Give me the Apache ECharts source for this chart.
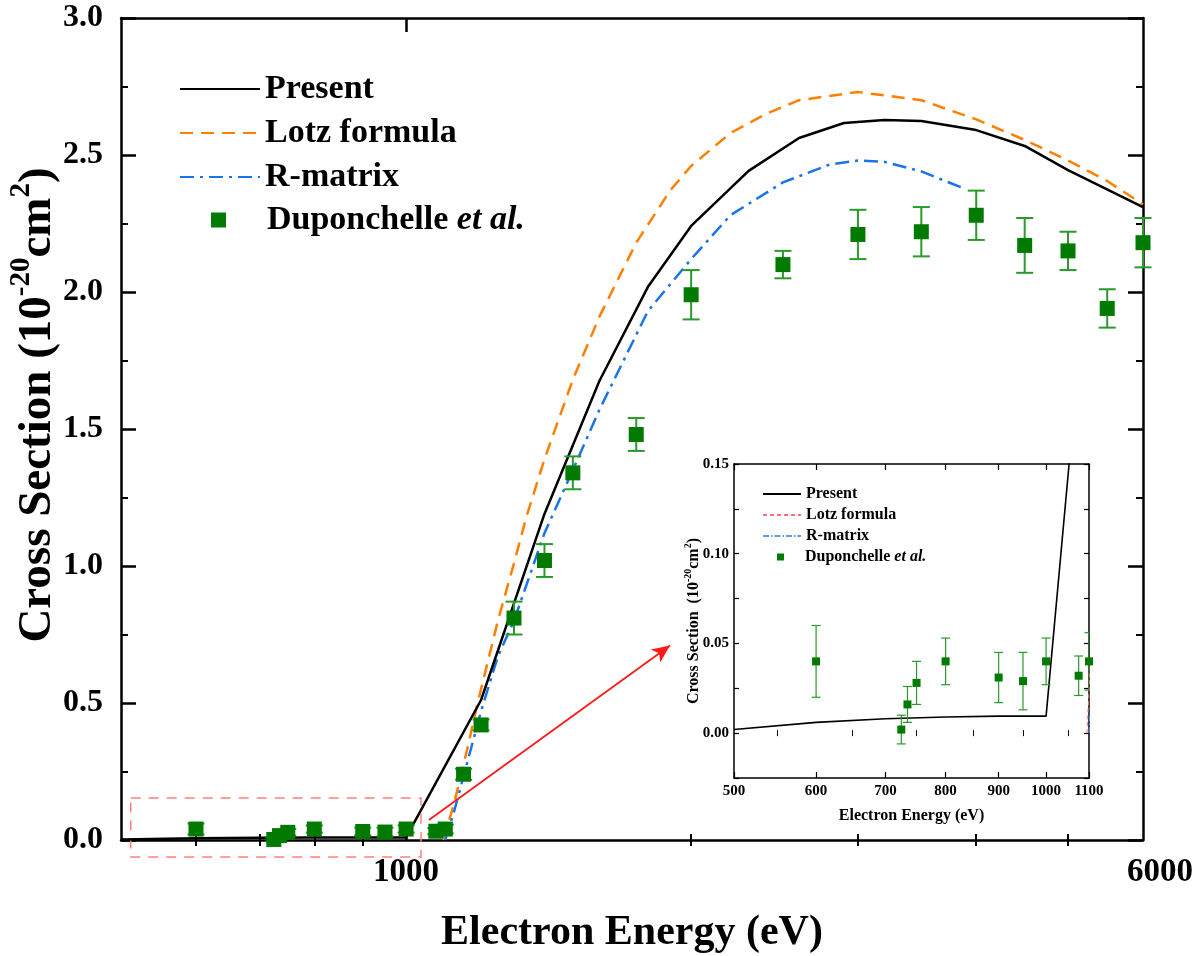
<!DOCTYPE html>
<html><head><meta charset="utf-8">
<script src="https://cdn.jsdelivr.net/npm/echarts@6/dist/echarts.min.js"></script>
<style>html,body{margin:0;padding:0;background:#fff}#c{width:1200px;height:956px}</style>
</head><body><div id="c"></div>
<script>
// ---------- data ----------
const presentX = [500, 600, 700, 800, 900, 1000, 1200, 1400, 1600, 1800, 2000, 2300, 2600, 2900, 3200, 3500, 4000, 4500, 5000, 6000];
const presentY = [0.002, 0.006, 0.008, 0.009, 0.0095, 0.0095, 0.511, 1.19, 1.675, 2.018, 2.241, 2.442, 2.562, 2.617, 2.628, 2.624, 2.591, 2.533, 2.445, 2.310];

const lotzX = [1095, 1125, 1160, 1190, 1250, 1300, 1340, 1400, 1500, 1600, 1750, 1900, 2000, 2200, 2400, 2600, 3000, 3500, 4000, 4500, 5000, 5500, 6000];
const lotzY = [0.0, 0.14, 0.33, 0.50, 0.80, 1.01, 1.18, 1.39, 1.68, 1.91, 2.18, 2.37, 2.46, 2.58, 2.65, 2.70, 2.73, 2.70, 2.63, 2.555, 2.48, 2.405, 2.32];

const rmatX = [1100, 1125, 1200, 1250, 1300, 1400, 1500, 1600, 1800, 2000, 2200, 2500, 2800, 3000, 3200, 3500, 3900];
const rmatY = [0.0, 0.11, 0.47, 0.67, 0.80, 1.12, 1.35, 1.57, 1.93, 2.12, 2.28, 2.40, 2.465, 2.48, 2.475, 2.44, 2.375];

const dupX   = [600, 725, 735, 750, 800, 900, 950, 1000, 1075, 1100, 1150, 1200, 1300, 1400, 1500, 1750, 2000, 2500, 3000, 3500, 4000, 4500, 5000, 5500, 6000];
const dupY   = [0.040, 0.002, 0.016, 0.028, 0.040, 0.031, 0.029, 0.040, 0.032, 0.040, 0.24, 0.42, 0.81, 1.02, 1.34, 1.48, 1.99, 2.10, 2.21, 2.22, 2.28, 2.17, 2.15, 1.94, 2.18];
const dupErr = [0.020, 0.008, 0.010, 0.012, 0.013, 0.014, 0.016, 0.013, 0.011, 0.016, 0.02, 0.02, 0.06, 0.06, 0.06, 0.06, 0.09, 0.05, 0.09, 0.09, 0.09, 0.10, 0.07, 0.07, 0.09];

// axis ticks / labels
const mainXMajorTicks = [1000];
const mainXMinorTicks = [600, 700, 800, 900, 2000, 3000, 4000, 5000];
const mainXLabels = [1000, 6000];
const insetXMajorTicks = [500, 600, 700, 800, 900, 1000, 1100];
const insetXMinorTicks = [550, 650, 750, 850, 950, 1050];

// annotation (zoom box and arrow, in data units)
const zoomBoxX = [512, 1037];
const zoomBoxY = [-0.062, 0.153];
const arrowFrom = [1057, 0.073];
const arrowTo = [1900, 0.71];

// ---------- helpers ----------
const FONT = "'Times New Roman','Liberation Serif',serif";
const zip = (xs, ys) => xs.map((x, i) => [x, ys[i]]);
const dupMain = dupX.map((x, i) => [x, dupY[i], dupErr[i]]);
const dupInset = dupMain.filter(d => d[0] <= 1100);

function errRender(cap, lw, color) {
  return function (params, api) {
    const x = api.value(0), y = api.value(1), e = api.value(2);
    const p1 = api.coord([x, y - e]), p2 = api.coord([x, y + e]);
    const st = { stroke: color, lineWidth: lw, fill: null };
    return { type: 'group', children: [
      { type: 'line', shape: { x1: p1[0], y1: p1[1], x2: p2[0], y2: p2[1] }, style: st },
      { type: 'line', shape: { x1: p1[0] - cap, y1: p1[1], x2: p1[0] + cap, y2: p1[1] }, style: st },
      { type: 'line', shape: { x1: p2[0] - cap, y1: p2[1], x2: p2[0] + cap, y2: p2[1] }, style: st }
    ]};
  };
}

const tickStyle = w => ({ color: '#000', width: w });
function xAx(o) {
  return Object.assign({
    type: 'log', logBase: 10, splitLine: { show: false }, minorTick: { show: false },
    minorSplitLine: { show: false }, axisLabel: { show: false }, nameMoveOverlap: false
  }, o);
}

const chart = echarts.init(document.getElementById('c'), null, { renderer: 'canvas' });

const supRich = (fs, sfs) => ({
  m: { fontSize: fs, fontWeight: 'bold', fontFamily: FONT, color: '#000', lineHeight: fs * 1.15, verticalAlign: 'bottom' },
  s: { fontSize: sfs, fontWeight: 'bold', fontFamily: FONT, color: '#000', lineHeight: sfs, verticalAlign: 'top' }
});

const hiddenSymbol = { opacity: 0, color: 'rgba(0,0,0,0)', borderWidth: 0 };

const option = {
  animation: false,
  backgroundColor: '#fff',
  grid: [
    { left: 121, right: 57, top: 18, bottom: 116, outerBoundsMode: 'none', containLabel: false },
    { left: 734, right: 111, top: 464, bottom: 178, outerBoundsMode: 'none', containLabel: false, show: true, backgroundColor: '#fff', borderWidth: 0 }
  ],
  xAxis: [
    xAx({ gridIndex: 0, min: 500, max: 6000, position: 'bottom',
      axisLine: { show: true, onZero: false, lineStyle: tickStyle(2.5) },
      axisTick: { show: true, inside: true, length: 14, customValues: mainXMajorTicks, lineStyle: tickStyle(2.5) },
      axisLabel: { show: true, customValues: mainXLabels, margin: 16,
        formatter: v => (Math.round(v) === 6000 ? '{r|6000}' : '{n|' + Math.round(v) + '}'),
        rich: { n: { fontSize: 33, fontWeight: 'bold', fontFamily: FONT, color: '#000' },
                r: { fontSize: 33, fontWeight: 'bold', fontFamily: FONT, color: '#000', padding: [0, 0, 0, 34] } } },
      name: 'Electron Energy (eV)', nameLocation: 'middle', nameGap: 72,
      nameTextStyle: { fontSize: 42, fontWeight: 'bold', fontFamily: FONT, color: '#000' } }),
    xAx({ gridIndex: 0, min: 500, max: 6000, position: 'bottom',
      axisLine: { show: false },
      axisTick: { show: true, inside: true, length: 6, customValues: mainXMinorTicks, lineStyle: tickStyle(2) } }),
    xAx({ gridIndex: 0, min: 500, max: 6000, position: 'top',
      axisLine: { show: true, onZero: false, lineStyle: tickStyle(2.5) },
      axisTick: { show: true, inside: true, length: 14, customValues: mainXMajorTicks, lineStyle: tickStyle(2.5) } }),
    xAx({ gridIndex: 0, min: 500, max: 6000, position: 'top',
      axisLine: { show: false },
      axisTick: { show: true, inside: true, length: 6, customValues: mainXMinorTicks, lineStyle: tickStyle(2) } }),
    // inset
    xAx({ gridIndex: 1, min: 500, max: 1100, position: 'bottom',
      axisLine: { show: true, onZero: false, lineStyle: tickStyle(1.5) },
      axisTick: { show: true, inside: true, length: 6, customValues: insetXMajorTicks, lineStyle: tickStyle(1.2) },
      axisLabel: { show: true, customValues: insetXMajorTicks, margin: 6, fontSize: 15, fontWeight: 'bold', fontFamily: FONT, color: '#000',
        formatter: v => String(Math.round(v)) },
      name: 'Electron Energy (eV)', nameLocation: 'middle', nameGap: 30,
      nameTextStyle: { fontSize: 16, fontWeight: 'bold', fontFamily: FONT, color: '#000' } }),
    xAx({ gridIndex: 1, min: 500, max: 1100, position: 'bottom',
      axisLine: { show: false },
      axisTick: { show: true, inside: true, length: 3, customValues: insetXMinorTicks, lineStyle: tickStyle(1) } }),
    xAx({ gridIndex: 1, min: 500, max: 1100, position: 'top',
      axisLine: { show: true, onZero: false, lineStyle: tickStyle(1.5) },
      axisTick: { show: true, inside: true, length: 6, customValues: insetXMajorTicks, lineStyle: tickStyle(1.2) } }),
    xAx({ gridIndex: 1, min: 500, max: 1100, position: 'top',
      axisLine: { show: false },
      axisTick: { show: true, inside: true, length: 3, customValues: insetXMinorTicks, lineStyle: tickStyle(1) } })
  ],
  yAxis: [
    { type: 'value', gridIndex: 0, min: 0, max: 3, interval: 0.5, position: 'left', nameMoveOverlap: false,
      axisLine: { show: true, onZero: false, lineStyle: tickStyle(2.5) },
      axisTick: { show: true, inside: true, length: 15, lineStyle: tickStyle(2.5) },
      minorTick: { show: true, splitNumber: 2, length: 7, lineStyle: tickStyle(2) },
      splitLine: { show: false }, minorSplitLine: { show: false },
      axisLabel: { margin: 18, fontSize: 32, fontWeight: 'bold', fontFamily: FONT, color: '#000', formatter: v => v.toFixed(1) },
      name: '{m|Cross Section (10}{s|-20}{m|cm}{s|2}{m|)}', nameLocation: 'middle', nameGap: 60, nameRotate: 90,
      nameTextStyle: { padding: [0, 0, 0, 48], rich: supRich(47, 29) } },
    { type: 'value', gridIndex: 0, min: 0, max: 3, interval: 0.5, position: 'right',
      axisLine: { show: true, onZero: false, lineStyle: tickStyle(2.5) },
      axisTick: { show: true, inside: true, length: 15, lineStyle: tickStyle(2.5) },
      minorTick: { show: true, splitNumber: 2, length: 7, lineStyle: tickStyle(2) },
      splitLine: { show: false }, axisLabel: { show: false } },
    { type: 'value', gridIndex: 1, min: -0.025, max: 0.15, interval: 0.025, position: 'left', nameMoveOverlap: false,
      axisLine: { show: true, onZero: false, lineStyle: tickStyle(1.5) },
      axisTick: { show: true, inside: true, length: 5, lineStyle: tickStyle(1.2) },
      splitLine: { show: false },
      axisLabel: { margin: 5, fontSize: 15, fontWeight: 'bold', fontFamily: FONT, color: '#000',
        formatter: v => { const k = Math.round(v * 1000); return (k % 50 === 0 && k >= 0) ? (k / 1000).toFixed(2) : ''; } },
      name: '{m|Cross Section  (10}{s|-20}{m|cm}{s|2}{m|)}', nameLocation: 'middle', nameGap: 32, nameRotate: 90,
      nameTextStyle: { rich: supRich(16, 10) } },
    { type: 'value', gridIndex: 1, min: -0.025, max: 0.15, interval: 0.025, position: 'right',
      axisLine: { show: true, onZero: false, lineStyle: tickStyle(1.5) },
      axisTick: { show: true, inside: true, length: 5, lineStyle: tickStyle(1.2) },
      splitLine: { show: false }, axisLabel: { show: false } }
  ],
  legend: [
    { orient: 'vertical', left: 179, top: 72, padding: 0, itemWidth: 80, itemHeight: 14, itemGap: 10, selectedMode: false,
      data: ['Present', 'Lotz formula', 'R-matrix'], itemStyle: hiddenSymbol,
      textStyle: { fontSize: 34, fontWeight: 'bold', fontFamily: FONT, color: '#000', lineHeight: 34 } },
    { orient: 'vertical', left: 211, top: 203, padding: 0, itemWidth: 15, itemHeight: 15, selectedMode: false,
      data: ['Duponchelle et al.'],
      formatter: () => '{a|Duponchelle }{b|et al.}',
      textStyle: { padding: [0, 0, 0, 36], lineHeight: 34, rich: {
        a: { fontSize: 34, fontWeight: 'bold', fontFamily: FONT, color: '#000' },
        b: { fontSize: 34, fontWeight: 'bold', fontStyle: 'italic', fontFamily: FONT, color: '#000' } } } },
    { orient: 'vertical', left: 762, top: 486, padding: 0, itemWidth: 38, itemHeight: 8, itemGap: 5, selectedMode: false,
      data: ['Present ', 'Lotz formula ', 'R-matrix '], itemStyle: hiddenSymbol,
      formatter: n => n.trim(),
      textStyle: { fontSize: 16, fontWeight: 'bold', fontFamily: FONT, color: '#000', lineHeight: 16 } },
    { orient: 'vertical', left: 777, top: 549, padding: 0, itemWidth: 7, itemHeight: 7, selectedMode: false,
      data: ['Duponchelle et al. '],
      formatter: () => '{a|Duponchelle }{b|et al.}',
      textStyle: { padding: [0, 0, 0, 16], lineHeight: 16, rich: {
        a: { fontSize: 16, fontWeight: 'bold', fontFamily: FONT, color: '#000' },
        b: { fontSize: 16, fontWeight: 'bold', fontStyle: 'italic', fontFamily: FONT, color: '#000' } } } }
  ],
  series: [
    { type: 'line', name: 'Present', xAxisIndex: 0, yAxisIndex: 0, data: zip(presentX, presentY),
      symbol: 'none', clip: true, z: 4, lineStyle: { color: '#000', width: 2.5 }, itemStyle: { color: '#000' },
      markLine: { silent: true, symbol: ['none', 'arrow'], symbolSize: [12, 18], label: { show: false },
        lineStyle: { color: '#ff1a1a', width: 1.8, type: 'solid' },
        data: [[{ coord: arrowFrom }, { coord: arrowTo }]] } },
    { type: 'line', name: 'Lotz formula', xAxisIndex: 0, yAxisIndex: 0, data: zip(lotzX, lotzY),
      symbol: 'none', clip: true, z: 3, lineStyle: { color: '#ff8000', width: 2.5, type: [13, 8] }, itemStyle: { color: '#ff8000' } },
    { type: 'line', name: 'R-matrix', xAxisIndex: 0, yAxisIndex: 0, data: zip(rmatX, rmatY),
      symbol: 'none', clip: true, z: 3, lineStyle: { color: '#1a73e8', width: 2.5, type: [14, 6, 3, 6] }, itemStyle: { color: '#1a73e8' } },
    { type: 'custom', name: 'dupErrMain', xAxisIndex: 0, yAxisIndex: 0, data: dupMain, z: 5,
      encode: { x: 0, y: 1 }, renderItem: errRender(8.5, 2, '#2a9a2a') },
    { type: 'scatter', name: 'Duponchelle et al.', xAxisIndex: 0, yAxisIndex: 0, data: dupMain.map(d => [d[0], d[1]]),
      symbol: 'rect', symbolSize: 15, z: 6, clip: false, itemStyle: { color: '#007a00', opacity: 1 } },
    // inset
    { type: 'line', name: 'Present ', xAxisIndex: 4, yAxisIndex: 2, data: zip(presentX, presentY),
      symbol: 'none', clip: true, z: 4, lineStyle: { color: '#000', width: 1.6 }, itemStyle: { color: '#000' } },
    { type: 'line', name: 'Lotz formula ', xAxisIndex: 4, yAxisIndex: 2, data: zip(lotzX, lotzY),
      symbol: 'none', clip: true, z: 3, lineStyle: { color: '#ff7070', width: 1, type: [4, 3] }, itemStyle: { color: '#ff7070' } },
    { type: 'line', name: 'R-matrix ', xAxisIndex: 4, yAxisIndex: 2, data: zip(rmatX, rmatY),
      symbol: 'none', clip: true, z: 3, lineStyle: { color: '#5b9bf0', width: 1, type: [6, 2, 1.5, 2] }, itemStyle: { color: '#5b9bf0' } },
    { type: 'custom', name: 'dupErrInset', xAxisIndex: 4, yAxisIndex: 2, data: dupInset, z: 5, clip: true,
      encode: { x: 0, y: 1 }, renderItem: errRender(4.5, 1.2, '#2a9a2a') },
    { type: 'scatter', name: 'Duponchelle et al. ', xAxisIndex: 4, yAxisIndex: 2, data: dupInset.map(d => [d[0], d[1]]),
      symbol: 'rect', symbolSize: 8, z: 6, clip: true, itemStyle: { color: '#007a00', opacity: 1 } }
  ]
};

chart.setOption(option);

// dashed zoom box, positioned through the main axes' scales
const pA = chart.convertToPixel({ xAxisIndex: 0, yAxisIndex: 0 }, [zoomBoxX[0], zoomBoxY[1]]);
const pB = chart.convertToPixel({ xAxisIndex: 0, yAxisIndex: 0 }, [zoomBoxX[1], zoomBoxY[0]]);
chart.setOption({ graphic: [{ type: 'rect', z: 2, silent: true,
  shape: { x: pA[0], y: pA[1], width: pB[0] - pA[0], height: pB[1] - pA[1] },
  style: { fill: 'none', stroke: '#ff8080', lineWidth: 1.5, lineDash: [10, 8] } }] });
</script></body></html>
